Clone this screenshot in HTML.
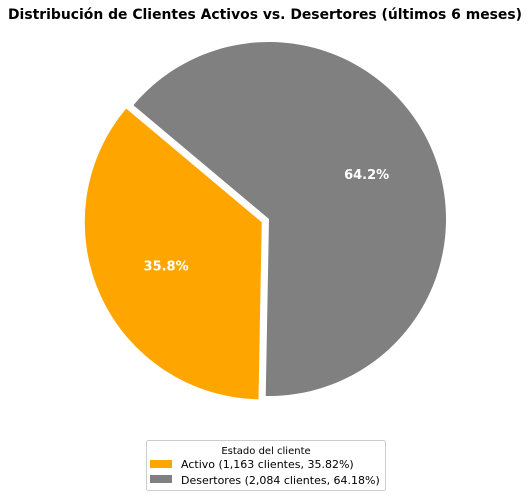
<!DOCTYPE html>
<html><head><meta charset="utf-8"><style>
body{margin:0;background:#fff;}
svg{display:block;font-family:"DejaVu Sans","Liberation Sans",sans-serif;}
</style></head><body>
<svg id="chart" width="531" height="497">
<text x="265" y="19" text-anchor="middle" font-size="14" font-weight="bold" textLength="514" lengthAdjust="spacingAndGlyphs">Distribución de Clientes Activos vs. Desertores (últimos 6 meses)</text>
<g id="slices"></g>
<g>
<rect x="146.5" y="440.5" width="239" height="50" rx="2" fill="#fff" stroke="#ccc"/>
<text x="266" y="454" text-anchor="middle" font-size="10">Estado del cliente</text>
<rect x="150" y="460" width="22" height="8" fill="#FFA500"/>
<text x="181" y="468" font-size="11">Activo (1,163 clientes, 35.82%)</text>
<rect x="150" y="475" width="22" height="8" fill="#808080"/>
<text x="181" y="484" font-size="11">Desertores (2,084 clientes, 64.18%)</text>
</g>
</svg>
<script>
const categories = ["Activo", "Desertores"];
const values = [1163, 2084];
const colors = ["#FFA500", "#808080"];
const explode = [0.045, 0];
const cx = 269, cy = 219, R = 177, startAngle = 140;
const g = document.getElementById('slices');
const NS = "http://www.w3.org/2000/svg";
const total = values.reduce((a, b) => a + b, 0);
let a0 = startAngle;
values.forEach((v, i) => {
  const sweep = v / total * 360;
  const a1 = a0 + sweep, mid = (a0 + a1) / 2 * Math.PI / 180;
  const ox = cx + explode[i] * R * Math.cos(mid), oy = cy - explode[i] * R * Math.sin(mid);
  const r0 = a0 * Math.PI / 180, r1 = a1 * Math.PI / 180;
  const x0 = ox + R * Math.cos(r0), y0 = oy - R * Math.sin(r0);
  const x1 = ox + R * Math.cos(r1), y1 = oy - R * Math.sin(r1);
  const p = document.createElementNS(NS, 'path');
  p.setAttribute('d', `M${ox},${oy} L${x0},${y0} A${R},${R} 0 ${sweep > 180 ? 1 : 0} 0 ${x1},${y1} Z`);
  p.setAttribute('fill', colors[i]);
  
  
  g.appendChild(p);
  const t = document.createElementNS(NS, 'text');
  t.setAttribute('x', ox + 0.6 * R * Math.cos(mid) + 1);
  t.setAttribute('y', oy - 0.6 * R * Math.sin(mid) + 4);
  t.setAttribute('text-anchor', 'middle');
  t.setAttribute('font-size', '13');
  t.setAttribute('font-weight', 'bold');
  t.setAttribute('fill', '#fff');
  t.textContent = (v / total * 100).toFixed(1) + '%';
  
  
  g.appendChild(t);
  a0 = a1;
});
</script>
</body></html>
